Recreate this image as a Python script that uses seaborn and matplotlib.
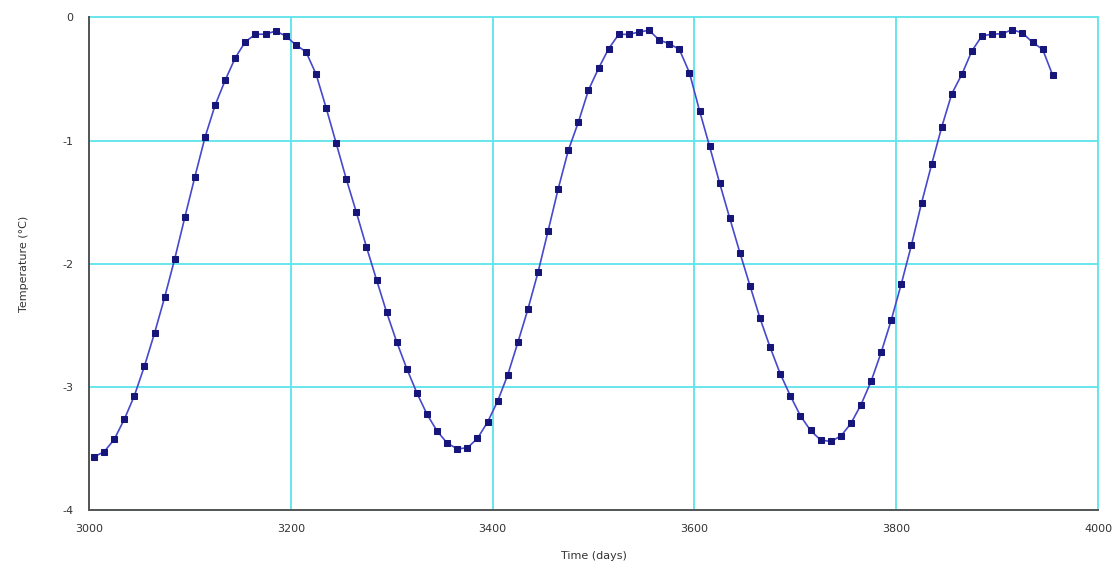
import numpy as np
import pandas as pd
import matplotlib
matplotlib.use("Agg")
import matplotlib.pyplot as plt
import seaborn as sns

# days sampled every 10 days
days = list(range(3005, 3965, 10))
temps = [
    -3.568, -3.527, -3.427, -3.264, -3.072, -2.831, -2.563, -2.273, -1.960, -1.623,
    -1.293, -0.973, -0.713, -0.510, -0.327, -0.197, -0.136, -0.136, -0.110, -0.150,
    -0.223, -0.278, -0.459, -0.733, -1.022, -1.312, -1.583, -1.864, -2.131, -2.395,
    -2.636, -2.853, -3.050, -3.223, -3.359, -3.457, -3.503, -3.495, -3.418, -3.286,
    -3.115, -2.902, -2.639, -2.368, -2.069, -1.732, -1.391, -1.079, -0.849, -0.589,
    -0.413, -0.253, -0.137, -0.137, -0.118, -0.104, -0.183, -0.213, -0.259, -0.448,
    -0.757, -1.047, -1.347, -1.631, -1.910, -2.178, -2.444, -2.679, -2.894, -3.072,
    -3.235, -3.354, -3.432, -3.443, -3.400, -3.297, -3.145, -2.955, -2.720, -2.457,
    -2.162, -1.848, -1.507, -1.193, -0.890, -0.619, -0.461, -0.270, -0.148, -0.137,
    -0.131, -0.099, -0.126, -0.202, -0.259, -0.470,
]
x_ticks = [3000, 3200, 3400, 3600, 3800, 4000]
y_ticks = [-4, -3, -2, -1, 0]

df = pd.DataFrame({"day": days, "temp": temps})

sns.set_style("white")
plt.rcParams["font.family"] = ["DejaVu Sans"]
plt.rcParams["axes.unicode_minus"] = False

fig = plt.figure(figsize=(11.16, 5.75), dpi=100)
ax = fig.add_axes([0.0797, 0.113, 0.9043, 0.8566])

sns.lineplot(data=df, x="day", y="temp", ax=ax, color="#4848cc", lw=1.2,
             marker="s", markersize=4.3, markerfacecolor="#16167a",
             markeredgecolor="#16167a")

ax.set_xlim(3000, 4000)
ax.set_ylim(-4, 0)
ax.set_xticks(x_ticks)
ax.set_yticks(y_ticks)
ax.grid(True, color="#5ce4ec", lw=1.3)
ax.set_axisbelow(True)
for gl in ax.get_xgridlines() + ax.get_ygridlines():
    gl.set_clip_on(False)

for s in ["top", "right"]:
    ax.spines[s].set_visible(False)
for s in ["left", "bottom"]:
    ax.spines[s].set_color("#555555")
    ax.spines[s].set_linewidth(1.4)
    ax.spines[s].set_zorder(3)

ax.tick_params(axis="x", direction="in", length=10, color="#555555",
               labelsize=8, labelcolor="#333333", pad=10)
ax.tick_params(axis="y", direction="inout", length=10, color="#555555",
               labelsize=8, labelcolor="#333333", pad=6)

ax.set_xlabel("Time (days)", fontsize=8, color="#333333", labelpad=12)
ax.set_ylabel("Temperature (°C)", fontsize=8, color="#333333", labelpad=24)

fig.savefig("out.png", dpi=100)
